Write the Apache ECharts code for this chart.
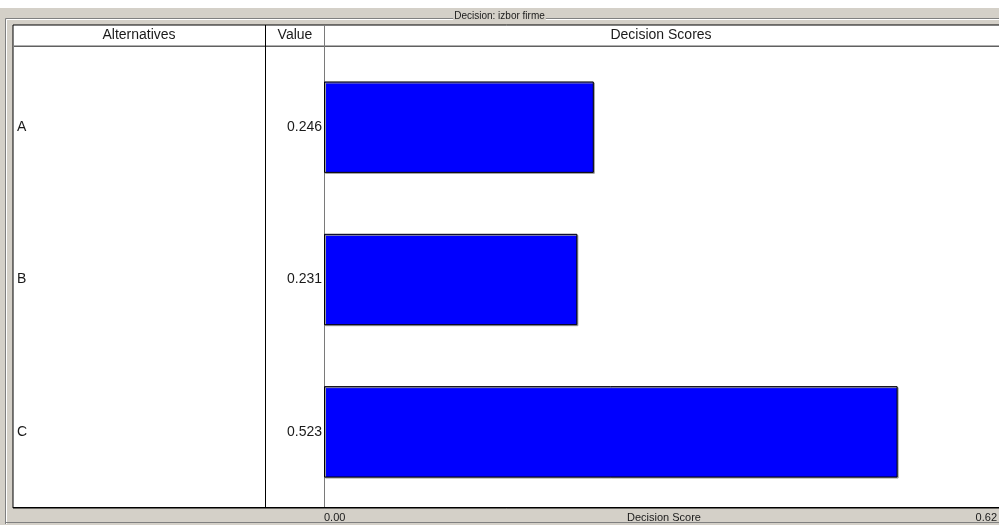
<!DOCTYPE html>
<html>
<head>
<meta charset="utf-8">
<script src="https://cdn.jsdelivr.net/npm/echarts@6/dist/echarts.min.js"></script>
<style>
  html, body { margin: 0; padding: 0; background: #ffffff; }
  #chart { width: 999px; height: 525px; }
</style>
</head>
<body>
<div id="chart"></div>
<script>
// data
const alternatives = ['A', 'B', 'C']
const scores = [0.246, 0.231, 0.523]
const scoreMin = 0
const scoreMax = 0.62

const chart = echarts.init(document.getElementById('chart'))

const font = 'Liberation Sans, Arial, sans-serif'
const textColor = '#1a1a1a'

chart.setOption({
  backgroundColor: '#ffffff',
  animation: false,
  grid: {
    left: 324,
    top: 51,
    right: -5,
    bottom: 17,
    containLabel: false,
    outerBoundsMode: 'none'
  },
  xAxis: {
    type: 'value',
    min: scoreMin,
    max: scoreMax,
    interval: scoreMax,
    name: 'Decision Score',
    nameLocation: 'middle',
    nameGap: 4,
    nameMoveOverlap: false,
    nameTextStyle: { fontFamily: font, fontSize: 11, color: textColor, verticalAlign: 'top' },
    axisLine: { show: false },
    axisTick: { show: false },
    splitLine: { show: false },
    axisLabel: {
      margin: 4,
      fontFamily: font,
      fontSize: 11,
      color: textColor,
      alignMinLabel: 'left',
      alignMaxLabel: 'right',
      padding: [0, 7, 0, 0],
      formatter: v => v.toFixed(2)
    }
  },
  yAxis: [{
    type: 'category',
    inverse: true,
    data: alternatives,
    axisLine: { show: true, lineStyle: { color: '#7a7a7a', width: 1 } },
    axisTick: { show: false },
    axisLabel: {
      align: 'left',
      margin: 307,
      fontFamily: font,
      fontSize: 14,
      color: textColor
    }
  }, {
    type: 'category',
    position: 'left',
    offset: 0,
    inverse: true,
    data: scores.map(v => v.toFixed(3)),
    axisLine: { show: false },
    axisTick: { show: false },
    axisLabel: {
      align: 'right',
      margin: 2,
      fontFamily: font,
      fontSize: 14,
      color: textColor
    }
  }],
  graphic: [
    // window frame (gray area around the white panel)
    { type: 'rect', z: -10, shape: { x: 0, y: 8, width: 999, height: 517 }, style: { fill: '#d4d0c8' } },
    // group box groove
    { type: 'polyline', z: -9, shape: { points: [[5.5, 524], [5.5, 18.5], [999, 18.5]] }, style: { stroke: '#808080', fill: null, lineWidth: 1 } },
    { type: 'polyline', z: -9, shape: { points: [[6.5, 524], [6.5, 19.5], [999, 19.5]] }, style: { stroke: '#ffffff', fill: null, lineWidth: 1 } },
    { type: 'line', z: -9, shape: { x1: 5, y1: 522.5, x2: 999, y2: 522.5 }, style: { stroke: '#808080', lineWidth: 1 } },
    // title sitting on the groove
    {
      type: 'text', z: -8, left: 'center', top: 11,
      style: {
        text: 'Decision: izbor firme', fontFamily: font, fontSize: 10, fill: textColor,
        backgroundColor: '#d4d0c8', padding: [0, 1]
      }
    },
    // white panel
    { type: 'rect', z: -7, shape: { x: 13, y: 25, width: 990, height: 483 }, style: { fill: '#ffffff', stroke: '#000000', lineWidth: 1 } },
    // header separator
    { type: 'rect', z: -6, shape: { x: 14, y: 45.5, width: 990, height: 1.5 }, style: { fill: '#606060' } },
    // column separators
    { type: 'line', z: -6, shape: { x1: 265.5, y1: 25, x2: 265.5, y2: 508 }, style: { stroke: '#000000', lineWidth: 1 } },
    { type: 'line', z: -6, shape: { x1: 324.5, y1: 25, x2: 324.5, y2: 508 }, style: { stroke: '#7a7a7a', lineWidth: 1 } },
    // bottom border
    { type: 'line', z: 5, shape: { x1: 13, y1: 507.5, x2: 999, y2: 507.5 }, style: { stroke: '#000000', lineWidth: 1 } },
    // headers
    { type: 'text', z: -5, x: 139, y: 35, style: { text: 'Alternatives', fontFamily: font, fontSize: 14, fill: textColor, align: 'center', verticalAlign: 'middle' } },
    { type: 'text', z: -5, x: 295, y: 35, style: { text: 'Value', fontFamily: font, fontSize: 14, fill: textColor, align: 'center', verticalAlign: 'middle' } },
    { type: 'text', z: -5, x: 661, y: 35, style: { text: 'Decision Scores', fontFamily: font, fontSize: 14, fill: textColor, align: 'center', verticalAlign: 'middle' } }
  ],
  series: [{
    type: 'bar',
    data: scores,
    barCategoryGap: '40%',
    itemStyle: {
      color: '#0000ff',
      borderColor: '#000000',
      borderWidth: 1,
      shadowColor: '#9a9a9a',
      shadowOffsetX: 1,
      shadowOffsetY: 1,
      shadowBlur: 0
    }
  }]
})
</script>
</body>
</html>
